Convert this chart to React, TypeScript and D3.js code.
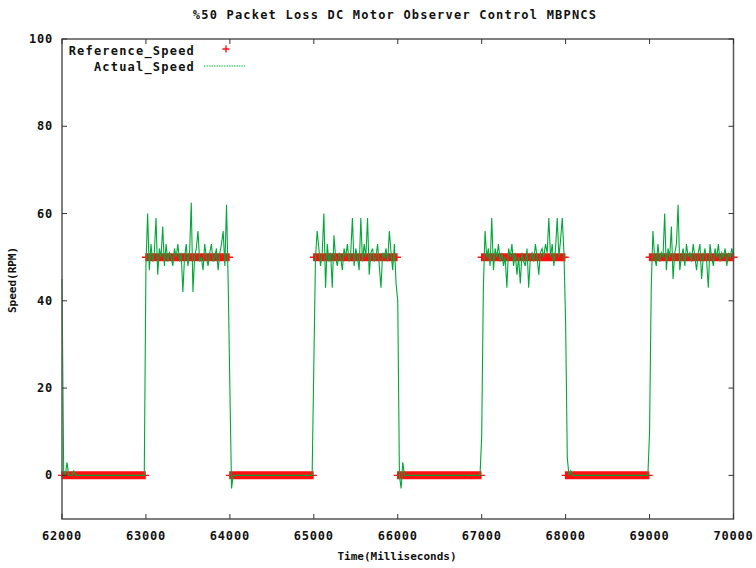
import React from "react";
import * as d3 from "d3";

const title = "%50 Packet Loss DC Motor Observer Control MBPNCS";
const xTicks = [62000, 63000, 64000, 65000, 66000, 67000, 68000, 69000, 70000];
const yTicks = [0, 20, 40, 60, 80, 100];
const segmentStarts = [62000, 63000, 64000, 65000, 66000, 67000, 68000, 69000];
const referenceLevels = [0, 50, 0, 50, 0, 50, 0, 50];
const sampleStepMs = 20;
const referenceStepMs = 10;

const actual62000 = [
  45, 1, 0, 3, 0, 0, 0, 1, 0, 0,
  0, 0, 0, 0, 0, 0, 0, 0, 0, 0,
  0, 0, 0, 0, 0, 0, 0, 0, 0, 0,
  0, 0, 0, 0, 0, 0, 0, 0, 0, 0,
  0, 0, 0, 0, 0, 0, 0, 0, 0, 0,
];
const actual63000 = [
  48, 60, 47, 53, 49, 51, 59, 46, 52, 50,
  57, 48, 53, 49, 51, 50, 48, 52, 50, 53,
  49, 51, 42, 50, 53, 48, 51, 62.5, 42, 50,
  52, 56, 49, 50, 47, 53, 50, 48, 51, 53,
  49, 50, 52, 47, 51, 53, 56, 48, 62, 44,
];
const actual64000 = [
  20, -3, 0, 0, 0, 0, 0, 0, 0, 0,
  0, 0, 0, 0, 0, 0, 0, 0, 0, 0,
  0, 0, 0, 0, 0, 0, 0, 0, 0, 0,
  0, 0, 0, 0, 0, 0, 0, 0, 0, 0,
  0, 0, 0, 0, 0, 0, 0, 0, 0, 0,
];
const actual65000 = [
  25, 50, 56, 52, 48, 51, 60, 43, 53, 49,
  51, 43, 55, 50, 48, 51, 50, 47, 52, 50,
  53, 49, 51, 59, 48, 52, 50, 47, 59, 49,
  53, 50, 59, 46, 51, 52, 49, 50, 53, 48,
  43, 51, 50, 52, 49, 56, 51, 47, 53, 44,
];
const actual66000 = [
  40, 0, -3, 3, 0, 0, 0, 0, 0, 0,
  0, 0, 0, 0, 0, 0, 0, 0, 0, 0,
  0, 0, 0, 0, 0, 0, 0, 0, 0, 0,
  0, 0, 0, 0, 0, 0, 0, 0, 0, 0,
  0, 0, 0, 0, 0, 0, 0, 0, 0, 0,
];
const actual67000 = [
  9, 43, 56, 50, 52, 48, 59, 47, 52, 50,
  53, 49, 51, 48, 50, 43, 52, 50, 53, 48,
  51, 46, 50, 44, 51, 49, 48, 52, 43, 50,
  51, 49, 53, 50, 46, 51, 52, 50, 53, 51,
  59, 50, 53, 48, 52, 59, 50, 54, 59, 51,
];
const actual68000 = [
  35, 4, 0, 1, 0, 0, 0, 0, 0, 0,
  0, 0, 0, 0, 0, 0, 0, 0, 0, 0,
  0, 0, 0, 0, 0, 0, 0, 0, 0, 0,
  0, 0, 0, 0, 0, 0, 0, 0, 0, 0,
  0, 0, 0, 0, 0, 0, 0, 0, 0, 0,
];
const actual69000 = [
  10, 43, 56, 50, 48, 53, 49, 51, 50, 60,
  47, 52, 50, 57, 45, 51, 53, 62, 47, 50,
  52, 48, 53, 50, 51, 49, 53, 50, 47, 51,
  53, 45, 50, 52, 49, 43, 53, 50, 48, 52,
  50, 53, 49, 51, 50, 52, 48, 51, 50, 52,
];
const actualFinal = { t: 70000, v: 50 };

const actualSegments = [
  actual62000, actual63000, actual64000, actual65000,
  actual66000, actual67000, actual68000, actual69000,
];

const W = 756;
const H = 568;
const FONT = "'DejaVu Sans Mono', 'Liberation Mono', monospace";

export default function App() {
  const x = d3.scaleLinear().domain([62000, 70000]).range([62, 733.5]);
  const y = d3.scaleLinear().domain([-10, 100]).range([519, 39]);

  const actualPts: [number, number][] = [];
  actualSegments.forEach((seg, k) => {
    seg.forEach((v, i) => actualPts.push([segmentStarts[k] + i * sampleStepMs, v]));
  });
  actualPts.push([actualFinal.t, actualFinal.v]);

  const refPts: [number, number][] = [];
  referenceLevels.forEach((lvl, k) => {
    for (let i = 0; i < 1000 / referenceStepMs; i++) {
      refPts.push([segmentStarts[k] + i * referenceStepMs, lvl]);
    }
  });
  refPts.push([70000, referenceLevels[referenceLevels.length - 1]]);

  const line = d3
    .line<[number, number]>()
    .x((d) => x(d[0]))
    .y((d) => y(d[1]));

  const ps = 4;
  const plusPath = refPts
    .map((d) => {
      const cx = x(d[0]);
      const cy = y(d[1]);
      return `M${cx - ps},${cy}H${cx + ps}M${cx},${cy - ps}V${cy + ps}`;
    })
    .join("");

  const [x0, x1] = x.range();
  const [yb, yt] = y.range();
  const tickLen = 5;

  return (
    <svg
      width={W}
      height={H}
      style={{ position: "absolute", left: 0, top: 0, background: "#fff" }}
      fontFamily={FONT}
    >
      <rect x={0} y={0} width={W} height={H} fill="#fff" />
      <text x={395} y={19} textAnchor="middle" fontSize={12} fontWeight="bold" letterSpacing={1.2} fill="#111">
        {title}
      </text>

      {/* data */}
      <path d={plusPath} stroke="#ff1010" strokeWidth={1.4} fill="none" />
      <path d={line(actualPts) || ""} stroke="#00a838" strokeWidth={1.1} fill="none" />

      {/* border */}
      <rect x={x0} y={yt} width={x1 - x0} height={yb - yt} fill="none" stroke="#555" strokeWidth={1.5} />

      {/* x ticks */}
      {xTicks.map((t) => (
        <g key={"x" + t}>
          <line x1={x(t)} x2={x(t)} y1={yb} y2={yb - tickLen} stroke="#333" />
          <line x1={x(t)} x2={x(t)} y1={yt} y2={yt + tickLen} stroke="#333" />
          <text x={x(t)} y={540} textAnchor="middle" fontSize={12} fontWeight="bold" letterSpacing={0.8} fill="#111">
            {t}
          </text>
        </g>
      ))}

      {/* y ticks */}
      {yTicks.map((t) => (
        <g key={"y" + t}>
          <line x1={x0} x2={x0 + tickLen} y1={y(t)} y2={y(t)} stroke="#333" />
          <line x1={x1} x2={x1 - tickLen} y1={y(t)} y2={y(t)} stroke="#333" />
          <text x={53} y={y(t) + 4} textAnchor="end" fontSize={12} fontWeight="bold" letterSpacing={0.8} fill="#111">
            {t}
          </text>
        </g>
      ))}

      {/* axis labels */}
      <text x={397} y={560} textAnchor="middle" fontSize={11} fontWeight="bold" fill="#111">
        Time(Milliseconds)
      </text>
      <text
        transform={`translate(16,280) rotate(-90)`}
        textAnchor="middle"
        fontSize={11}
        fontWeight="bold"
        fill="#111"
      >
        Speed(RPM)
      </text>

      {/* legend */}
      <text x={195} y={55} textAnchor="end" fontSize={12} fontWeight="bold" letterSpacing={1.2} fill="#111">
        Reference_Speed
      </text>
      <path d={`M${226 - 3.5},49H${226 + 3.5}M226,${49 - 3.5}V${49 + 3.5}`} stroke="#ff1010" strokeWidth={1.4} />
      <text x={195} y={71} textAnchor="end" fontSize={12} fontWeight="bold" letterSpacing={1.2} fill="#111">
        Actual_Speed
      </text>
      <line x1={204} x2={245} y1={66} y2={66} stroke="#00c040" strokeWidth={1} strokeDasharray="1.5,1" />
    </svg>
  );
}
